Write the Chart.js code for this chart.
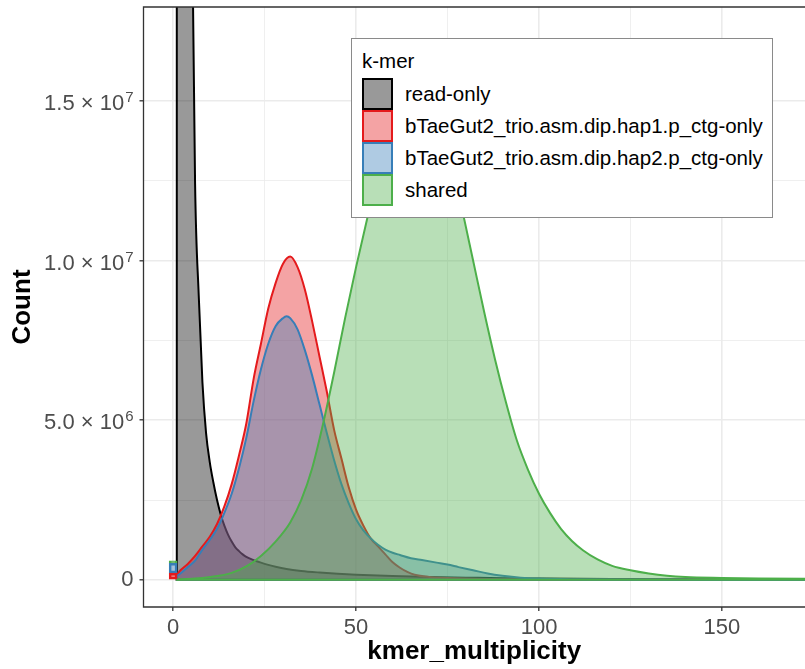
<!DOCTYPE html>
<html>
<head>
<meta charset="utf-8">
<script src="https://cdn.jsdelivr.net/npm/chart.js@4.4.1/dist/chart.umd.min.js"></script>
<style>
  html, body { margin: 0; padding: 0; background: #fff; }
  #wrap { position: relative; width: 805px; height: 669px; overflow: hidden;
          font-family: 'Liberation Sans', Arial, sans-serif; }
  #chart { position: absolute; left: 0; top: 0; }
  #legend { position: absolute; left: 351px; top: 38px; width: 422px; height: 180px;
            box-sizing: border-box; background: #fff; border: 1px solid #8a8a8a; }
  #legend .ttl { position: absolute; left: 10px; top: 10px; font-size: 20.5px; line-height: 24px; color: #000; }
  #legend .key { position: absolute; left: 10px; width: 31px; height: 32px; box-sizing: border-box; border: 2px solid; }
  #legend .lab { position: absolute; left: 53px; font-size: 20.5px; line-height: 32px; color: #000; white-space: nowrap; }
</style>
</head>
<body>
<div id="wrap">
  <canvas id="chart" width="805" height="669"></canvas>
  <div id="legend"></div>
</div>
<script>
// ── Data (counts in millions of k-mers) ─────────────────────────────────────
const SERIES_NAMES = [
  'read-only',
  'bTaeGut2_trio.asm.dip.hap1.p_ctg-only',
  'bTaeGut2_trio.asm.dip.hap2.p_ctg-only',
  'shared',
];
const SERIES_COLORS = ['#000000', '#E41A1C', '#377EB8', '#4DAF4A'];

const readOnlyMult  = [1, 2, 3, 4, 5, 6, 7, 8, 9, 10, 11, 12, 13, 14, 15, 16, 17, 18, 19, 20, 22, 24, 26, 28, 31, 35, 40, 45, 50, 60, 70, 80, 90, 100, 120, 140, 160, 180];
const readOnlyCount = [120, 80, 50, 33, 22.8, 12.4, 8.9, 6.2, 4.6, 3.7, 3.05, 2.5, 2.05, 1.7, 1.42, 1.2, 1.02, 0.9, 0.8, 0.72, 0.62, 0.54, 0.47, 0.41, 0.34, 0.28, 0.23, 0.19, 0.16, 0.12, 0.09, 0.07, 0.05, 0.04, 0.025, 0.015, 0.01, 0.006];

const hap1Mult  = [1, 2, 4, 6, 8, 10, 12, 14, 16, 18, 20, 22, 24, 26, 28, 30, 32, 34, 36, 38, 40, 42, 44, 46, 48, 50, 52, 54, 56, 58, 60, 62, 64, 66, 70, 75, 80, 90, 100, 120, 150, 180];
const hap1Count = [0.15, 0.3, 0.5, 0.75, 1.05, 1.35, 1.75, 2.3, 3.0, 3.9, 4.9, 6.3, 7.4, 8.5, 9.3, 9.9, 10.13, 9.8, 9.1, 8.1, 7.0, 5.9, 4.7, 3.8, 2.9, 2.2, 1.7, 1.3, 1.05, 0.8, 0.55, 0.38, 0.25, 0.16, 0.09, 0.06, 0.04, 0.02, 0.01, 0.005, 0.002, 0.001];

const hap2Mult  = [1, 2, 4, 6, 8, 10, 12, 14, 16, 18, 20, 22, 24, 26, 28, 30, 31, 32, 34, 36, 38, 40, 42, 44, 46, 48, 50, 52, 54, 56, 58, 60, 62, 65, 68, 72, 75, 78, 82, 86, 90, 95, 100, 110, 130, 150, 180];
const hap2Count = [0.12, 0.2, 0.4, 0.6, 0.95, 1.25, 1.6, 2.1, 2.7, 3.5, 4.45, 5.6, 6.6, 7.4, 7.95, 8.2, 8.26, 8.2, 7.85, 7.2, 6.4, 5.5, 4.6, 3.75, 3.0, 2.4, 1.9, 1.55, 1.3, 1.1, 0.95, 0.85, 0.78, 0.68, 0.62, 0.54, 0.48, 0.4, 0.3, 0.2, 0.13, 0.07, 0.04, 0.02, 0.01, 0.005, 0.002];

const sharedMult  = [1, 4, 8, 12, 16, 20, 24, 28, 32, 35, 38, 41, 44, 47, 50, 53, 56, 59, 62, 65, 67, 70, 73, 76, 79, 82, 85, 88, 91, 94, 97, 100, 103, 106, 109, 112, 116, 120, 125, 130, 135, 140, 150, 160, 180];
const sharedCount = [0.01, 0.03, 0.06, 0.12, 0.22, 0.42, 0.75, 1.2, 1.8, 2.5, 3.5, 4.9, 6.5, 8.2, 9.8, 11.3, 12.7, 13.9, 14.8, 15.35, 15.5, 15.2, 14.5, 13.3, 11.6, 10.0, 8.4, 6.9, 5.55, 4.35, 3.45, 2.7, 2.1, 1.6, 1.22, 0.93, 0.64, 0.44, 0.3, 0.2, 0.13, 0.09, 0.06, 0.04, 0.03];

// assembly-only k-mers (multiplicity 0): hap1, hap2, shared — stacked
const asmOnlyCount = [0.21, 0.31, 0.08];

const X_TICKS       = [0, 25, 50, 75, 100, 125, 150];
const X_TICK_LABELS = ['0', '', '50', '', '100', '', '150'];
const Y_TICKS       = [0, 2.5, 5, 7.5, 10, 12.5, 15];
const Y_TICK_LABELS = ['0', '', '5.0 × 10', '', '1.0 × 10', '', '1.5 × 10'];
const Y_TICK_EXPS   = ['', '', '6', '', '7', '', '7'];
const X_RANGE = [-8.1, 172.7];
const Y_RANGE = [-0.85, 17.95];

// ── Helpers ──────────────────────────────────────────────────────────────────
function alpha(hex, a) {
  const n = parseInt(hex.slice(1), 16);
  return `rgba(${n >> 16},${(n >> 8) & 255},${n & 255},${a})`;
}

const FONT = "'Liberation Sans', Arial, sans-serif";
const TICK_SIZE = 22;
const LINE_W = 2;

// ── Datasets ─────────────────────────────────────────────────────────────────
const curves = [
  [readOnlyMult, readOnlyCount],
  [hap1Mult, hap1Count],
  [hap2Mult, hap2Count],
  [sharedMult, sharedCount],
];

const datasets = curves.map(([m, c], i) => ({
  type: 'line',
  label: SERIES_NAMES[i],
  data: m.map((x, j) => ({ x, y: c[j] })),
  borderColor: SERIES_COLORS[i],
  backgroundColor: alpha(SERIES_COLORS[i], 0.4),
  borderWidth: LINE_W,
  pointRadius: 0,
  cubicInterpolationMode: 'monotone',
  fill: 'origin',
  order: 4 - i,
}));

let base = 0;
asmOnlyCount.forEach((c, i) => {
  const lo = base;
  base += c;
  datasets.push({
    type: 'bar',
    label: SERIES_NAMES[i + 1] + ' (0)',
    data: [{ x: 0, y: [lo, base] }],
    backgroundColor: alpha(SERIES_COLORS[i + 1], 0.4),
    borderColor: SERIES_COLORS[i + 1],
    borderWidth: 2,
    borderSkipped: false,
    barThickness: 8,
    grouped: false,
    order: 0,
  });
});

// ── Panel plugin: closing edges of each area, panel border, y labels ────────
const panelPlugin = {
  id: 'panel',
  afterDatasetDraw(chart, args) {
    const ds = chart.data.datasets[args.index];
    if (ds.type !== 'line') return;
    const { ctx, chartArea: a, scales: { x, y } } = chart;
    const first = ds.data[0], last = ds.data[ds.data.length - 1];
    ctx.save();
    ctx.beginPath();
    ctx.rect(a.left, a.top, a.right - a.left, a.bottom - a.top);
    ctx.clip();
    ctx.strokeStyle = ds.borderColor;
    ctx.lineWidth = LINE_W;
    ctx.beginPath();
    ctx.moveTo(x.getPixelForValue(first.x), y.getPixelForValue(first.y));
    ctx.lineTo(x.getPixelForValue(first.x), y.getPixelForValue(0));
    ctx.lineTo(x.getPixelForValue(last.x), y.getPixelForValue(0));
    ctx.lineTo(x.getPixelForValue(last.x), y.getPixelForValue(last.y));
    ctx.stroke();
    ctx.restore();
  },
  afterDraw(chart) {
    const { ctx, chartArea: a, scales: { y } } = chart;
    ctx.save();
    ctx.strokeStyle = '#333333';
    ctx.lineWidth = 1.3;
    ctx.beginPath();
    ctx.moveTo(a.right + 2, a.top);
    ctx.lineTo(a.left, a.top);
    ctx.lineTo(a.left, a.bottom);
    ctx.lineTo(a.right + 2, a.bottom);
    ctx.stroke();

    // y tick labels with superscript exponents
    const right = a.left - 10;
    ctx.fillStyle = '#4D4D4D';
    ctx.textAlign = 'right';
    Y_TICKS.forEach((v, i) => {
      const txt = Y_TICK_LABELS[i];
      if (!txt) return;
      const py = y.getPixelForValue(v);
      const exp = Y_TICK_EXPS[i];
      let r = right;
      if (exp) {
        ctx.font = `15px ${FONT}`;
        ctx.textBaseline = 'alphabetic';
        ctx.fillText(exp, r, py + 1);
        r -= ctx.measureText(exp).width + 1;
        ctx.font = `${TICK_SIZE}px ${FONT}`;
        ctx.textBaseline = 'middle';
        ctx.fillText(txt, r, py + 3);
      } else {
        ctx.font = `${TICK_SIZE}px ${FONT}`;
        ctx.textBaseline = 'middle';
        ctx.fillText(txt, r, py);
      }
    });
    ctx.restore();
  },
};

const isMinor = (labels, ctx) => ctx.tick && labels[ctx.index] === '';

// ── Chart ────────────────────────────────────────────────────────────────────
new Chart(document.getElementById('chart'), {
  type: 'line',
  data: { datasets },
  options: {
    responsive: false,
    animation: false,
    devicePixelRatio: 1,
    layout: { padding: { top: 7, right: 0, bottom: 0, left: 0 } },
    plugins: { legend: { display: false }, tooltip: { enabled: false } },
    scales: {
      x: {
        type: 'linear',
        min: X_RANGE[0],
        max: X_RANGE[1],
        offset: false,
        afterBuildTicks: s => { s.ticks = X_TICKS.map(v => ({ value: v })); },
        afterFit: s => { s.height = 62; s.paddingLeft = 0; s.paddingRight = 0; },
        border: { display: false },
        grid: {
          offset: false,
          color: '#EBEBEB',
          lineWidth: ctx => isMinor(X_TICK_LABELS, ctx) ? 0.8 : 1.6,
          tickLength: 4,
          tickWidth: 1.3,
          tickColor: ctx => isMinor(X_TICK_LABELS, ctx) ? 'rgba(0,0,0,0)' : '#333333',
        },
        ticks: {
          autoSkip: false,
          maxRotation: 0,
          padding: 4,
          color: '#4D4D4D',
          font: { family: FONT, size: TICK_SIZE },
          callback: (v, i) => X_TICK_LABELS[i],
        },
        title: {
          display: true,
          text: 'kmer_multiplicity',
          color: '#000',
          font: { family: FONT, size: 26, weight: 'bold' },
          padding: { top: 0, bottom: 1.5 },
        },
      },
      y: {
        type: 'linear',
        min: Y_RANGE[0],
        max: Y_RANGE[1],
        afterBuildTicks: s => { s.ticks = Y_TICKS.map(v => ({ value: v })); },
        afterFit: s => { s.width = 143.5; s.paddingTop = 0; s.paddingBottom = 0; },
        border: { display: false },
        grid: {
          color: '#EBEBEB',
          lineWidth: ctx => isMinor(Y_TICK_LABELS, ctx) ? 0.8 : 1.6,
          tickLength: 4,
          tickWidth: 1.3,
          tickColor: ctx => isMinor(Y_TICK_LABELS, ctx) ? 'rgba(0,0,0,0)' : '#333333',
        },
        ticks: {
          autoSkip: false,
          padding: 4,
          callback: () => '',
        },
        title: {
          display: true,
          text: 'Count',
          color: '#000',
          font: { family: FONT, size: 26, weight: 'bold' },
          padding: { top: 7, bottom: 0 },
        },
      },
    },
  },
  plugins: [panelPlugin],
});

// ── Legend ───────────────────────────────────────────────────────────────────
const legend = document.getElementById('legend');
legend.innerHTML = '<div class="ttl">k-mer</div>' + SERIES_NAMES.map((name, i) => `
  <div class="key" style="top:${39 + i * 32}px;border-color:${SERIES_COLORS[i]};background:${alpha(SERIES_COLORS[i], 0.4)}"></div>
  <div class="lab" style="top:${39 + i * 32}px">${name}</div>
`).join('');
</script>
</body>
</html>
